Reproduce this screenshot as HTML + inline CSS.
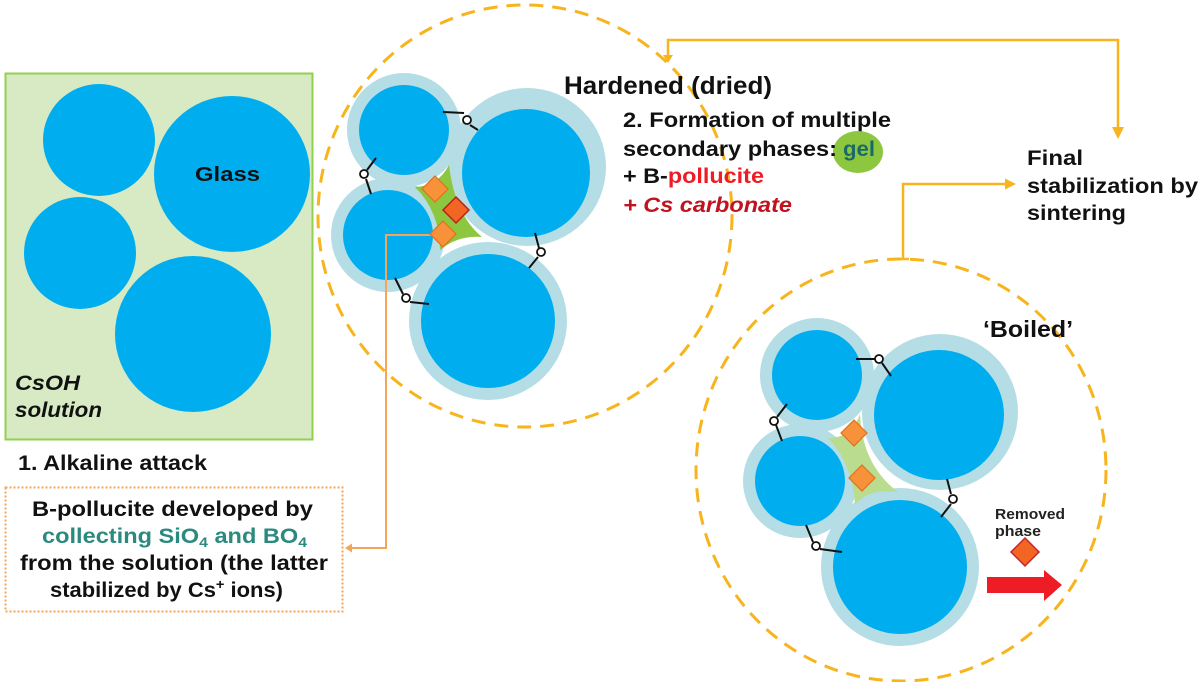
<!DOCTYPE html>
<html><head><meta charset="utf-8"><style>
html,body{margin:0;padding:0;background:#fff;}
svg{display:block;}
text{font-family:"Liberation Sans",Arial,sans-serif;font-weight:bold;}
</style></head><body>
<svg width="1200" height="682" viewBox="0 0 1200 682" xmlns="http://www.w3.org/2000/svg">
<!-- Left green box -->
<rect x="5.5" y="73.5" width="307" height="366" fill="#d7eac3" stroke="#92d050" stroke-width="2"/>
<circle cx="99" cy="140" r="56" fill="#00aeef"/>
<circle cx="232" cy="174" r="78" fill="#00aeef"/>
<circle cx="80" cy="253" r="56" fill="#00aeef"/>
<circle cx="193" cy="334" r="78" fill="#00aeef"/>
<text x="195" y="181" font-size="20" fill="#111" textLength="65" lengthAdjust="spacingAndGlyphs">Glass</text>
<text x="15" y="390" font-size="21" font-style="italic" fill="#111" textLength="65" lengthAdjust="spacingAndGlyphs">CsOH</text>
<text x="15" y="417" font-size="21" font-style="italic" fill="#111" textLength="87" lengthAdjust="spacingAndGlyphs">solution</text>
<text x="18" y="470" font-size="21" fill="#111" textLength="189" lengthAdjust="spacingAndGlyphs">1. Alkaline attack</text>

<!-- Orange dotted box -->
<rect x="5.5" y="487.5" width="337" height="124" fill="none" stroke="#f4a55a" stroke-width="2" stroke-dasharray="2,2"/>
<text x="32" y="516" font-size="21" fill="#111" textLength="281" lengthAdjust="spacingAndGlyphs">B-pollucite developed by</text>
<text x="42" y="543" font-size="21" fill="#2a8a7e" textLength="265" lengthAdjust="spacingAndGlyphs">collecting SiO<tspan font-size="14" dy="4">4</tspan><tspan dy="-4"> and BO</tspan><tspan font-size="14" dy="4">4</tspan></text>
<text x="20" y="570" font-size="21" fill="#111" textLength="308" lengthAdjust="spacingAndGlyphs">from the solution (the latter</text>
<text x="50" y="597" font-size="21" fill="#111" textLength="233" lengthAdjust="spacingAndGlyphs">stabilized by Cs<tspan font-size="14" dy="-8">+</tspan><tspan dy="8"> ions)</tspan></text>

<!-- Dashed circles -->
<ellipse cx="525" cy="216" rx="207" ry="211" fill="none" stroke="#f7b41c" stroke-width="3" stroke-dasharray="14,9"/>
<ellipse cx="901" cy="470" rx="205" ry="211" fill="none" stroke="#f7b41c" stroke-width="3" stroke-dasharray="14,9"/>

<!-- Yellow connectors -->
<polyline points="668,60 668,40 1118,40 1118,130" fill="none" stroke="#f7b41c" stroke-width="2.5"/>
<polygon points="1112,127 1124,127 1118,139" fill="#f7b41c"/>
<polygon points="663,55 673,55 668,63" fill="#f7b41c"/>
<polyline points="903,259 903,184 1008,184" fill="none" stroke="#f7b41c" stroke-width="2.5"/>
<line x1="897" y1="259" x2="909" y2="259" stroke="#f7b41c" stroke-width="2.5"/>
<polygon points="1005,178.5 1005,189.5 1016,184" fill="#f7b41c"/>

<!-- Hardened particles -->
<circle cx="404" cy="130" r="57" fill="#b4dde5"/>
<circle cx="527" cy="167" r="79" fill="#b4dde5"/>
<circle cx="388" cy="235" r="57" fill="#b4dde5"/>
<circle cx="488" cy="321" r="79" fill="#b4dde5"/>
<path d="M415,187 Q438,186 449,165 Q455,215 482,237 Q458,235 440,250 Q440,212 415,187 Z" fill="#8dc63f"/>
<circle cx="404" cy="130" r="45" fill="#00aeef"/>
<circle cx="526" cy="173" r="64" fill="#00aeef"/>
<circle cx="388" cy="235" r="45" fill="#00aeef"/>
<circle cx="488" cy="321" r="67" fill="#00aeef"/>
<!-- orange connector -->
<polyline points="432,235 386,235 386,548 350,548" fill="none" stroke="#f4a55a" stroke-width="2"/>
<polygon points="352,543.5 352,552.5 345,548" fill="#f4a55a"/>
<!-- diamonds -->
<polygon points="435,176 448,189 435,202 422,189" fill="#f7923a" stroke="#e0701e" stroke-width="1.2"/>
<polygon points="456,197 469,210 456,223 443,210" fill="#f26522" stroke="#b5231a" stroke-width="1.5"/>
<polygon points="443,221 456,234 443,247 430,234" fill="#f7923a" stroke="#e0701e" stroke-width="1.2"/>
<!-- hardened bonds -->
<g stroke="#111" stroke-width="2" fill="none">
<polyline points="443,112 464,113"/><polyline points="470,125 478,130"/>
<polyline points="376,158 367,170"/><polyline points="366,179 371,194"/>
<polyline points="535,233 539,248"/><polyline points="538,257 529,268"/>
<polyline points="395,278 403,294"/><polyline points="410,302 429,304"/>
</g>
<g stroke="#111" stroke-width="1.8" fill="#fff">
<circle cx="467" cy="120" r="4"/><circle cx="364" cy="174" r="4"/>
<circle cx="541" cy="252" r="4"/><circle cx="406" cy="298" r="4"/>
</g>

<!-- Hardened text -->
<text x="564" y="94" font-size="25" fill="#111" textLength="208" lengthAdjust="spacingAndGlyphs">Hardened (dried)</text>
<text x="623" y="127" font-size="21" fill="#111" textLength="268" lengthAdjust="spacingAndGlyphs">2. Formation of multiple</text>
<ellipse cx="858" cy="152" rx="25" ry="21" fill="#8dc63f"/>
<text x="623" y="156" font-size="21" fill="#111" textLength="214" lengthAdjust="spacingAndGlyphs">secondary phases:</text>
<text x="843" y="156" font-size="21" fill="#1b6a6a" textLength="32" lengthAdjust="spacingAndGlyphs">gel</text>
<text x="623" y="183" font-size="21" fill="#111" textLength="141" lengthAdjust="spacingAndGlyphs">+ B-<tspan fill="#ee1c25">pollucite</tspan></text>
<text x="623" y="212" font-size="21" font-style="italic" fill="#c1121f" textLength="169" lengthAdjust="spacingAndGlyphs">+ Cs carbonate</text>

<!-- Final text -->
<text x="1027" y="165" font-size="21" fill="#111" textLength="56" lengthAdjust="spacingAndGlyphs">Final</text>
<text x="1027" y="193" font-size="21" fill="#111" textLength="171" lengthAdjust="spacingAndGlyphs">stabilization by</text>
<text x="1027" y="220" font-size="21" fill="#111" textLength="99" lengthAdjust="spacingAndGlyphs">sintering</text>

<!-- Boiled particles -->
<circle cx="817" cy="375" r="57" fill="#b4dde5"/>
<circle cx="940" cy="412" r="78" fill="#b4dde5"/>
<circle cx="800" cy="481" r="57" fill="#b4dde5"/>
<circle cx="900" cy="567" r="79" fill="#b4dde5"/>
<path d="M828,438 Q852,438 860,414 Q862,465 898,492 Q868,488 855,505 Q852,462 828,438 Z" fill="#b9dc8f"/>
<circle cx="817" cy="375" r="45" fill="#00aeef"/>
<circle cx="939" cy="415" r="65" fill="#00aeef"/>
<circle cx="800" cy="481" r="45" fill="#00aeef"/>
<circle cx="900" cy="567" r="67" fill="#00aeef"/>
<polygon points="854,420 867,433 854,446 841,433" fill="#f7923a" stroke="#e0701e" stroke-width="1.2"/>
<polygon points="862,465 875,478 862,491 849,478" fill="#f7923a" stroke="#e0701e" stroke-width="1.2"/>
<g stroke="#111" stroke-width="2" fill="none">
<polyline points="856,359 875,359"/><polyline points="882,363 891,376"/>
<polyline points="787,404 777,417"/><polyline points="776,425 782,441"/>
<polyline points="947,479 951,494"/><polyline points="951,504 941,517"/>
<polyline points="806,525 813,542"/><polyline points="820,549 842,552"/>
</g>
<g stroke="#111" stroke-width="1.8" fill="#fff">
<circle cx="879" cy="359" r="4"/><circle cx="774" cy="421" r="4"/>
<circle cx="953" cy="499" r="4"/><circle cx="816" cy="546" r="4"/>
</g>
<text x="983" y="337" font-size="23" fill="#111" textLength="90" lengthAdjust="spacingAndGlyphs">‘Boiled’</text>
<text x="995" y="519" font-size="15" fill="#222" textLength="70" lengthAdjust="spacingAndGlyphs">Removed</text>
<text x="995" y="536" font-size="15" fill="#222" textLength="46" lengthAdjust="spacingAndGlyphs">phase</text>
<polygon points="1025,538 1039,552 1025,566 1011,552" fill="#f26522" stroke="#c1272d" stroke-width="1.5"/>
<polygon points="987,577 1044,577 1044,570 1062,585 1044,601 1044,593 987,593" fill="#ee1c25"/>
</svg>
</body></html>
